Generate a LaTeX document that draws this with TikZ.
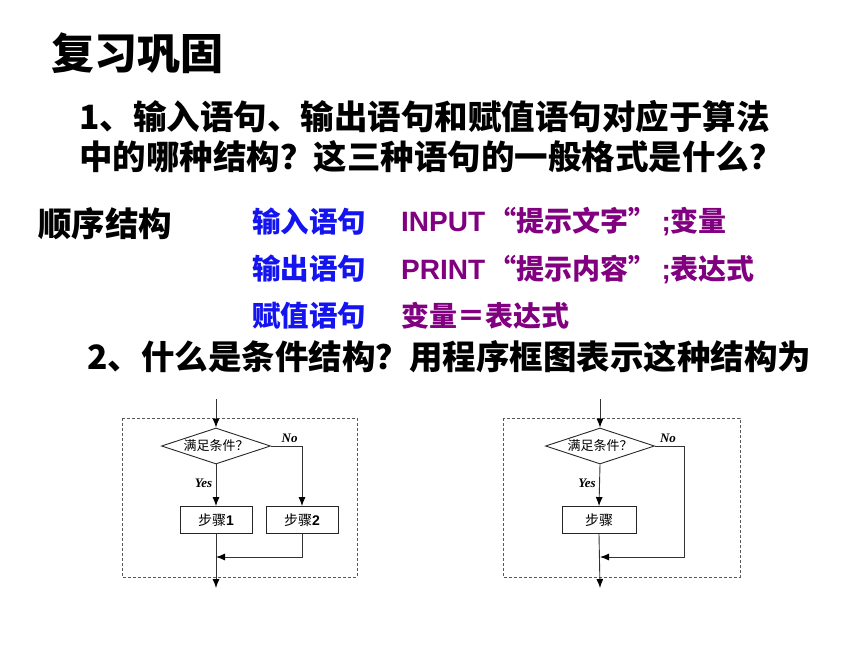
\documentclass[tikz,border=0pt]{standalone}
\usepackage{fontspec}
\setmainfont{Noto Sans CJK SC}
\newfontfamily\lat{Liberation Sans}
\newfontfamily\tms{Liberation Serif}
\usetikzlibrary{arrows.meta,shapes.geometric}
\definecolor{stmtblue}{RGB}{20,20,240}
\definecolor{stmtpurple}{RGB}{128,0,128}
\newcommand{\openq}{\makebox[1.1em][r]{“}}
\newcommand{\closeq}{\makebox[1.2em][l]{”}}
\begin{document}
\begin{tikzpicture}[x=1pt,y=-1pt,
    line/.style={draw=black!80, line width=0.9pt},
    arr/.style={line, -{Latex[length=9pt,width=7pt,color=black]}},
    frame/.style={draw=black!65, line width=0.8pt, dash pattern=on 3pt off 2pt},
    cond/.style={diamond, draw=black!85, line width=0.9pt, aspect=3, inner sep=0pt,
        minimum width=109pt, minimum height=36pt, font=\fontsize{13}{13}\selectfont},
    stepbox/.style={draw=black!85, line width=0.9pt, minimum width=72pt, minimum height=27pt,
        inner sep=0pt, font=\fontsize{14}{14}\selectfont},
    yn/.style={font=\tms\bfseries\itshape\fontsize{13}{13}\selectfont},
    head/.style={anchor=west, inner sep=0pt, font=\bfseries\fontsize{33.5}{33.5}\selectfont},
    kind/.style={anchor=west, inner sep=0pt, text=stmtblue, font=\bfseries\fontsize{28.5}{28.5}\selectfont},
    form/.style={anchor=west, inner sep=0pt, text=stmtpurple, font=\bfseries\fontsize{28}{28}\selectfont}]
\useasboundingbox (0,0) rectangle (860,645);
% heading and questions
\node[anchor=west, inner sep=0pt, font=\bfseries\fontsize{43}{43}\selectfont] (title) at (51,53) {复习巩固};
\node[head] (q1a) at (79,117) {1、输入语句、输出语句和赋值语句对应于算法};
\node[head] (q1b) at (79,157) {中的哪种结构？这三种语句的一般格式是什么？};
\node[head] (seq) at (38,224) {顺序结构};
\node[kind] (in) at (252,222) {输入语句};
\node[kind] (out) at (252,269) {输出语句};
\node[kind] (asg) at (252,316) {赋值语句};
\node[form] (inf) at (401,222) {{\lat INPUT}\openq 提示文字\closeq{\lat ;}变量};
\node[form] (outf) at (401,269) {{\lat PRINT}\openq 提示内容\closeq{\lat ;}表达式};
\node[form] (asgf) at (401,316) {变量＝表达式};
\node[head] (q2) at (87,357) {2、什么是条件结构？用程序框图表示这种结构为};
% two branches
\draw[frame] (122,418) rectangle (357,577);
\coordinate (in1) at (216,399);
\node[cond] (d1) at (216,446) {满足条件？};
\node[stepbox] (s1) at (216,520) {步骤{\lat\bfseries 1}};
\node[stepbox] (s2) at (302,520) {步骤{\lat\bfseries 2}};
\coordinate (j1) at (216,557);
\coordinate (out1) at (216,588);
\draw[arr] (in1) -- (d1.north);
\draw[arr] (d1.south) -- node[yn, left, pos=0.45] {Yes} (s1.north);
\draw[arr] (d1.east) -| node[yn, above, pos=0.3] {No} (s2.north);
\draw[arr] (s1.south) -- (out1);
\draw[arr] (s2.south) |- (j1);
% one branch
\draw[frame] (503,418) rectangle (740,577);
\coordinate (in2) at (600,399);
\node[cond] (d2) at (600,446) {满足条件？};
\node[stepbox, minimum width=74pt] (s3) at (599,520) {步骤};
\coordinate (r2) at (684,446);
\coordinate (j2) at (600,557);
\coordinate (out2) at (600,588);
\draw[arr] (in2) -- (d2.north);
\draw[arr] (d2.south) -- node[yn, left, pos=0.45] {Yes} (s3.north);
\draw[line] (d2.east) -- node[yn, above, pos=0.45] {No} (r2);
\draw[arr] (r2) |- (j2);
\draw[arr] (s3.south) -- (out2);
\end{tikzpicture}
\end{document}
